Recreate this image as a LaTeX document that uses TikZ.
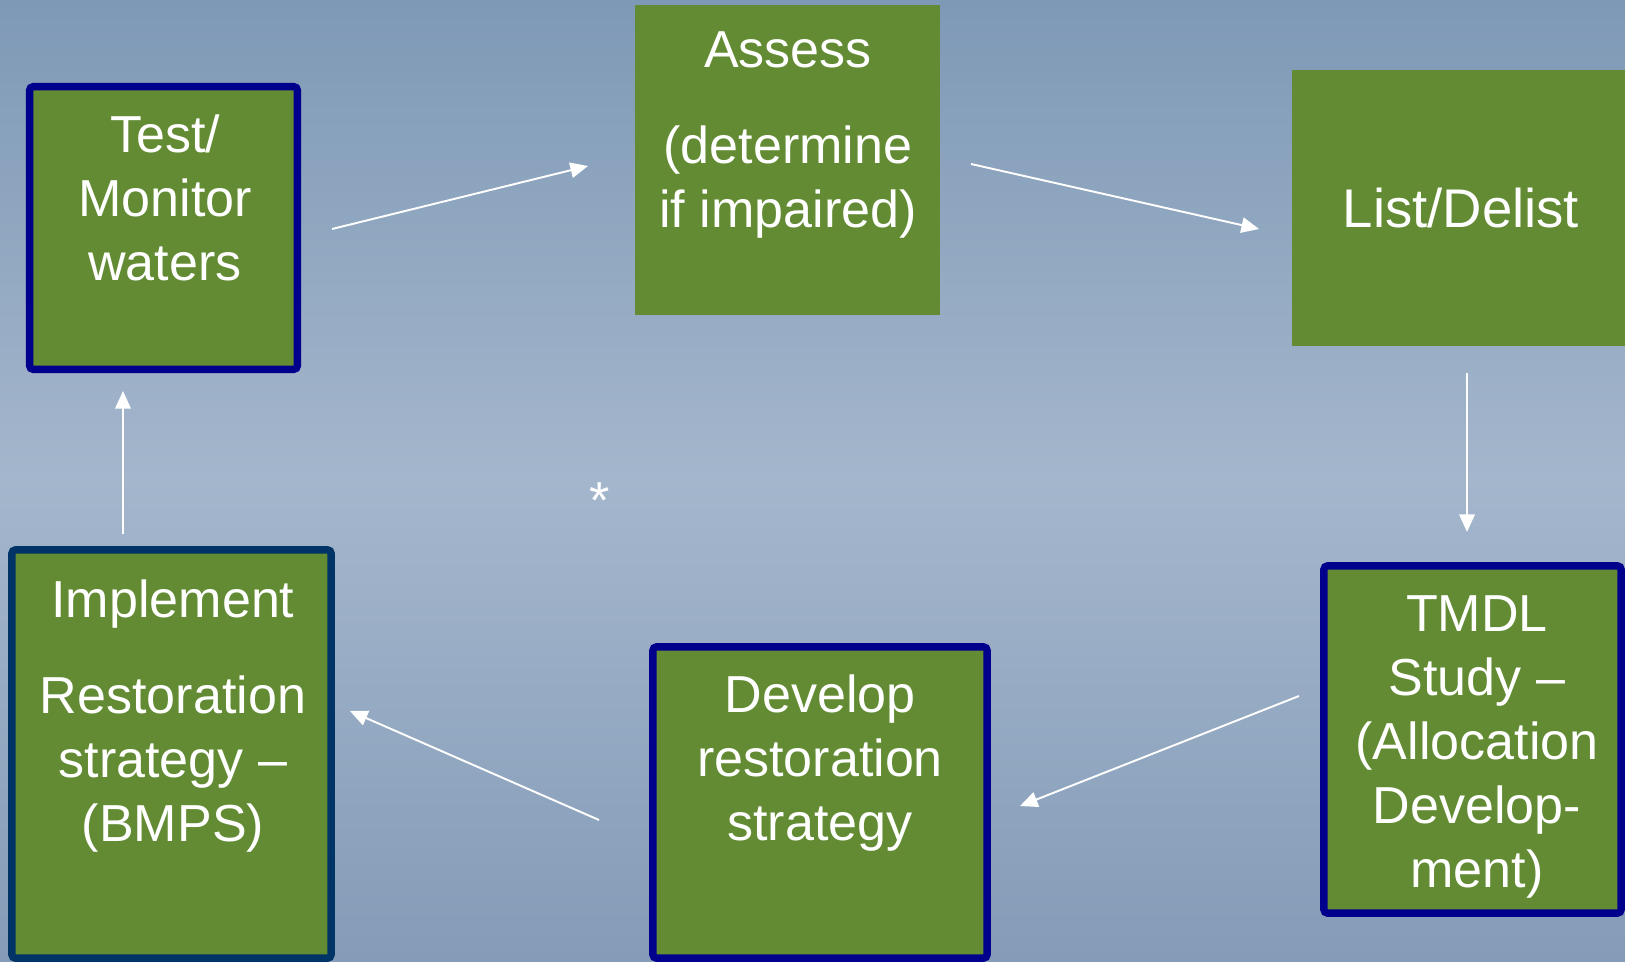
\documentclass[tikz,border=0pt]{standalone}
\usepackage{fontspec}
\setmainfont{Liberation Sans}
\usetikzlibrary{arrows.meta}
\definecolor{bgtop}{RGB}{126,153,182}
\definecolor{bgmid}{RGB}{164,182,204}
\definecolor{bgbot}{RGB}{132,156,184}
\definecolor{stepgreen}{RGB}{98,139,51}
\definecolor{framenavy}{RGB}{0,0,140}
\definecolor{framedeep}{RGB}{0,51,102}
\begin{document}
\begin{tikzpicture}[x=0.01cm,y=-0.01cm]
        \tikzset{stage/.style={rectangle,fill=stepgreen,inner sep=0pt,outer sep=0pt},
                 framed stage/.style={stage,draw=framenavy,line width=2.1pt,rounded corners=1pt},
                 caption/.style={text=white,align=center,inner sep=0pt,font=\fontsize{14.8}{18.2}\selectfont},
                 flow/.style={draw=white,line width=0.55pt,-{Triangle[length=5pt,width=4.4pt]}}} % arrows between steps
        \useasboundingbox (0,0) rectangle (1625,961);
        \clip (0,0) rectangle (1625,961);
        \shade[top color=bgtop,bottom color=bgbot,middle color=bgmid] (0,0) rectangle (1625,961);
        \node[framed stage,minimum width=2.675cm,minimum height=2.825cm] (test) at (163.5,228) {};
        \node[stage,minimum width=3.05cm,minimum height=3.10cm] (assess) at (787.5,160) {};
        \node[stage,minimum width=3.38cm,minimum height=2.76cm] (list) at (1461,208) {};
        \node[framed stage,minimum width=2.97cm,minimum height=3.47cm] (tmdl) at (1472.5,739.5) {};
        \node[framed stage,minimum width=3.34cm,minimum height=3.11cm] (develop) at (820,802.5) {};
        \node[framed stage,draw=framedeep,minimum width=3.19cm,minimum height=4.08cm] (implement) at (171.5,754) {};
        \node[caption,anchor=north] (test-text) at (165,114) {Test/\\Monitor\\waters};
        \node[caption,anchor=north] (assess-text) at (788,31) {Assess\\[9pt](determine\\if impaired)};
        \node[caption,anchor=base,font=\fontsize{15.5}{18.2}\selectfont] (list-text) at (1461,228) {List/Delist};
        \node[caption,anchor=north] (tmdl-text) at (1477,595) {TMDL\\Study --\\(Allocation\\Develop-\\ment)};
        \node[caption,anchor=north] (develop-text) at (820,674) {Develop\\restoration\\strategy};
        \node[caption,anchor=north] (implement-text) at (173,579) {Implement\\[9pt]Restoration\\strategy --\\(BMPS)};
        \node[caption,anchor=base] (star) at (600,518) {*};
        \coordinate (test-out) at (332,229);
        \coordinate (assess-in) at (588,166);
        \coordinate (assess-out) at (971,164);
        \coordinate (list-in) at (1259,229);
        \coordinate (list-out) at (1467,373);
        \coordinate (tmdl-in) at (1467,532);
        \coordinate (tmdl-out) at (1299,696);
        \coordinate (develop-in) at (1020,806);
        \coordinate (develop-out) at (599,820);
        \coordinate (implement-in) at (350,711);
        \coordinate (implement-out) at (123,534);
        \coordinate (test-in) at (123,391);
        \draw[flow] (test-out) -- (assess-in);
        \draw[flow] (assess-out) -- (list-in);
        \draw[flow] (list-out) -- (tmdl-in);
        \draw[flow] (tmdl-out) -- (develop-in);
        \draw[flow] (develop-out) -- (implement-in);
        \draw[flow] (implement-out) -- (test-in);
    \end{tikzpicture}
\end{document}
